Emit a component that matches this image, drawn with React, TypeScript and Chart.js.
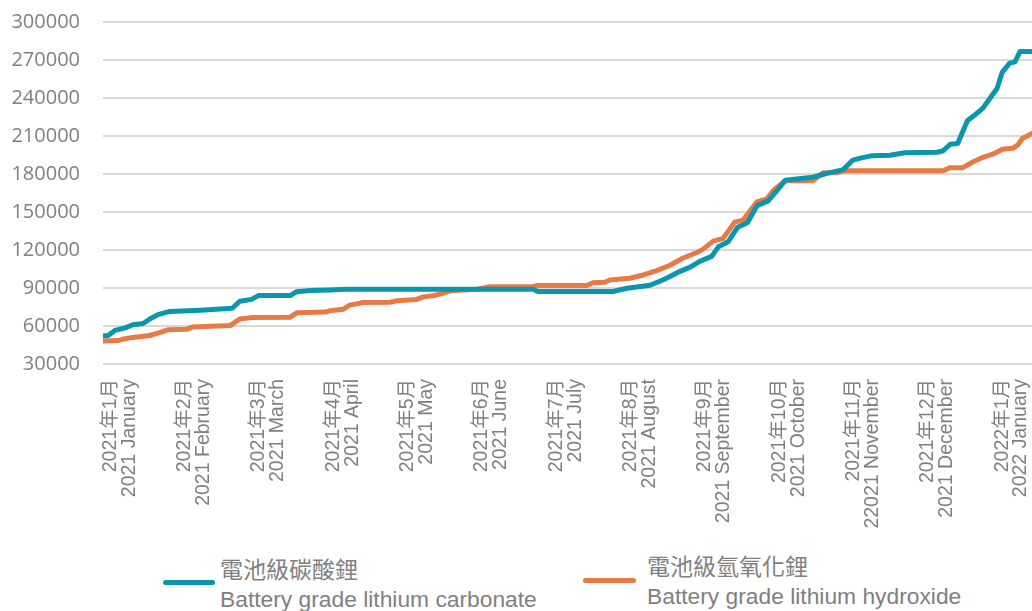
import React, { useEffect, useRef } from 'react';
import { Chart, registerables } from 'chart.js';

Chart.register(...registerables);

// Month tick labels (Chinese / English)
const monthLabelsZh = [
  '2021年1月', '2021年2月', '2021年3月', '2021年4月', '2021年5月', '2021年6月', '2021年7月',
  '2021年8月', '2021年9月', '2021年10月', '2021年11月', '2021年12月', '2022年1月',
];
const monthLabelsEn = [
  '2021 January', '2021 February', '2021 March', '2021 April', '2021 May', '2021 June', '2021 July',
  '2021 August', '2021 September', '2021 October', '22021 November', '2021 December', '2022 January',
];

// x in months since January 2021 (0 = Jan 2021 label)
const carbonateX = [
  -0.22, -0.15, -0.06, 0.08, 0.18, 0.32, 0.41, 0.52, 0.68, 1.09, 1.52, 1.62, 1.78, 1.87, 2.3, 2.38,
  2.57, 2.83, 3.04, 5.57, 5.63, 6.64, 6.83, 7.14, 7.32, 7.52, 7.68, 7.81, 7.97, 8.06, 8.19, 8.32,
  8.45, 8.58, 8.73, 8.85, 8.96, 9.33, 9.43, 9.52, 9.74, 9.87, 9.97, 10.13, 10.37, 10.57, 11.0, 11.08,
  11.18, 11.28, 11.41, 11.51, 11.62, 11.76, 11.81, 11.88, 11.98, 12.05, 12.12, 12.28,
];
const carbonateY = [
  52000, 52500, 56500, 58500, 61000, 62000, 65500, 69000, 71500, 72500, 74000, 79500, 81000, 84000, 84000, 87000,
  88000, 88500, 89000, 89000, 87200, 87200, 89800, 92200, 96500, 102500, 106500, 111000, 115000, 122500, 126500, 138000,
  141500, 155000, 158800, 167000, 175000, 177500, 179000, 180500, 183500, 191000, 192500, 194500, 194800, 196800, 197200, 198200,
  203500, 204000, 222000, 226500, 232000, 243500, 247500, 260500, 267500, 268500, 276800, 276800,
];

const hydroxideX = [
  -0.22, -0.02, 0.04, 0.18, 0.41, 0.55, 0.65, 0.91, 0.99, 1.49, 1.62, 1.8, 2.3, 2.39, 2.77, 2.83,
  3.01, 3.1, 3.28, 3.64, 3.74, 4.0, 4.09, 4.22, 4.35, 4.45, 4.81, 4.99, 5.57, 5.62, 6.29, 6.37,
  6.53, 6.6, 6.87, 7.05, 7.23, 7.41, 7.58, 7.77, 7.85, 7.99, 8.12, 8.28, 8.39, 8.58, 8.71, 8.8,
  8.96, 9.33, 9.47, 9.66, 9.74, 11.08, 11.18, 11.35, 11.49, 11.62, 11.76, 11.88, 12.02, 12.09, 12.15, 12.28,
];
const hydroxideY = [
  48200, 48500, 49500, 51000, 52500, 55000, 57000, 57500, 59300, 60300, 65500, 66800, 67000, 70500, 71000, 72000,
  73200, 76500, 78500, 78700, 80000, 81000, 83000, 83800, 85800, 87800, 89000, 91000, 91000, 92000, 92000, 94200,
  94500, 96300, 97700, 100300, 103700, 108000, 113500, 118000, 120500, 127000, 129000, 142000, 143500, 158000, 160300, 167000,
  174700, 174700, 181000, 181000, 182500, 182500, 185000, 185000, 189700, 193200, 195800, 199500, 200300, 203000, 208000, 212000,
];

const seriesNames = ['電池級碳酸鋰', '電池級氫氧化鋰'];
const seriesNamesEn = ['Battery grade lithium carbonate', 'Battery grade lithium hydroxide'];

const yMin = 30000;
const yMax = 300000;
const yStep = 30000;
const xMin = -0.22;
const xMax = 12.28;

const TEAL = '#0A97AE';
const ORANGE = '#E87B45';
const TEXT = '#808080';

export default function App() {
  const canvasRef = useRef<HTMLCanvasElement | null>(null);

  useEffect(() => {
    document.body.style.margin = '0';
    const canvas = canvasRef.current;
    if (!canvas) return;
    const chart = new Chart(canvas, {
      type: 'line',
      data: {
        datasets: [
          {
            label: seriesNames[0],
            data: carbonateX.map((x, i) => ({ x, y: carbonateY[i] })),
            borderColor: TEAL,
            backgroundColor: TEAL,
            borderWidth: 5,
            pointRadius: 0,
            tension: 0,
            borderJoinStyle: 'round',
            borderCapStyle: 'round',
          },
          {
            label: seriesNames[1],
            data: hydroxideX.map((x, i) => ({ x, y: hydroxideY[i] })),
            borderColor: ORANGE,
            backgroundColor: ORANGE,
            borderWidth: 5,
            pointRadius: 0,
            tension: 0,
            borderJoinStyle: 'round',
            borderCapStyle: 'round',
          },
        ],
      },
      options: {
        responsive: false,
        animation: false,
        layout: { padding: { top: 22, left: 0, right: 0, bottom: 0 } },
        plugins: { legend: { display: false }, tooltip: { enabled: false } },
        scales: {
          x: {
            type: 'linear',
            min: xMin,
            max: xMax,
            grid: { display: false, drawTicks: false },
            border: { display: false },
            afterBuildTicks: (scale: any) => {
              scale.ticks = monthLabelsZh.map((_, i) => ({ value: i }));
            },
            afterFit: (scale: any) => {
              scale.height = 166;
              scale.paddingLeft = 0;
              scale.paddingRight = 0;
            },
            ticks: {
              autoSkip: false,
              maxRotation: 90,
              minRotation: 90,
              padding: 15,
              labelOffset: -9,
              color: TEXT,
              font: { family: '"Liberation Sans", "Noto Sans CJK TC", sans-serif', size: 19.5, lineHeight: 0.97 },
              callback: (value: any) => {
                const i = Math.round(Number(value));
                return [monthLabelsZh[i], monthLabelsEn[i]];
              },
            },
          },
          y: {
            min: yMin,
            max: yMax,
            grid: { color: '#d9d9d9', lineWidth: 2, drawTicks: false },
            border: { display: false },
            afterFit: (scale: any) => {
              scale.width = 103;
              scale.paddingTop = 0;
              scale.paddingBottom = 0;
            },
            ticks: {
              stepSize: yStep,
              padding: 23,
              color: TEXT,
              font: { family: '"Open Sans", sans-serif', size: 20 },
              callback: (value: any) => String(value),
            },
          },
        },
      },
    });
    return () => chart.destroy();
  }, []);

  const textZh: React.CSSProperties = {
    position: 'absolute',
    fontFamily: '"Noto Sans CJK TC", sans-serif',
    fontSize: 23,
    lineHeight: '28px',
    color: TEXT,
    whiteSpace: 'nowrap',
  };
  const textEn: React.CSSProperties = {
    position: 'absolute',
    fontFamily: '"Liberation Sans", sans-serif',
    fontSize: 22.8,
    lineHeight: '28px',
    color: TEXT,
    whiteSpace: 'nowrap',
  };

  return (
    <div style={{ position: 'fixed', left: 0, top: 0, width: 1032, height: 611, background: '#fff', overflow: 'hidden' }}>
      <canvas ref={canvasRef} width={1032} height={530} style={{ position: 'absolute', left: 0, top: 0 }} />
      <div style={{ position: 'absolute', left: 163, top: 580, width: 52, height: 5, borderRadius: 3, background: TEAL }} />
      <div style={{ ...textZh, left: 220, top: 554 }}>{seriesNames[0]}</div>
      <div style={{ ...textEn, left: 220, top: 585 }}>{seriesNamesEn[0]}</div>
      <div style={{ position: 'absolute', left: 583, top: 578, width: 53, height: 5, borderRadius: 3, background: ORANGE }} />
      <div style={{ ...textZh, left: 647, top: 551 }}>{seriesNames[1]}</div>
      <div style={{ ...textEn, left: 647, top: 582 }}>{seriesNamesEn[1]}</div>
    </div>
  );
}
